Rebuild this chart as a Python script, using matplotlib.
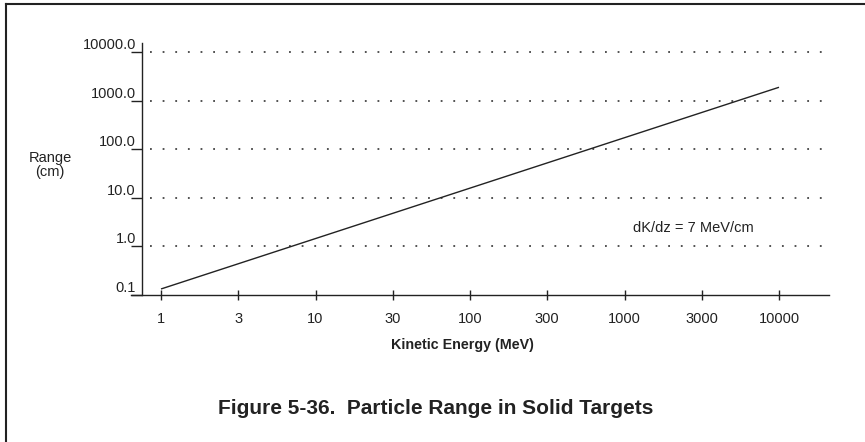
import matplotlib
matplotlib.use("Agg")
import matplotlib.pyplot as plt
from matplotlib.lines import Line2D

plt.rcParams["font.family"] = ["Liberation Sans", "DejaVu Sans"]

# line end points
energy_mev = [1, 10000]
range_cm = [0.133, 1880]

y_ticks = [0.1, 1.0, 10.0, 100.0, 1000.0, 10000.0]
y_labels = ["0.1", "1.0", "10.0", "100.0", "1000.0", "10000.0"]
grid_levels = [1.0, 10.0, 100.0, 1000.0, 10000.0]
# ticks are evenly spaced: 3 sits at half a decade
x_ticks = [10 ** (k / 2) for k in range(9)]
x_labels = ["1", "3", "10", "30", "100", "300", "1000", "3000", "10000"]

INK = "#222222"
W, H = 865, 442

fig = plt.figure(figsize=(W / 100, H / 100), dpi=100)
ax = fig.add_axes([142 / W, 1 - 295 / H, (829 - 142) / W, (295 - 43) / H])
ax.set_xscale("log")
ax.set_yscale("log")
ax.set_xlim(10 ** (-19 / 154.5), 10 ** (668 / 154.5))
ax.set_ylim(0.1, 0.1 * 10 ** (252 / 48.6))

for s in ("top", "right"):
    ax.spines[s].set_visible(False)
for s in ("left", "bottom"):
    ax.spines[s].set_color(INK)
    ax.spines[s].set_linewidth(1.0)
ax.spines["bottom"].set_bounds(10 ** (-30 / 154.5), 10 ** (668 / 154.5))

for lvl in grid_levels:
    ax.axhline(lvl, xmin=0.012, xmax=0.99, color="#444444", lw=1.3,
               linestyle=(0, (1.0, 6.0)))

ax.plot(energy_mev, range_cm, color=INK, lw=1.0, solid_capstyle="butt")

ax.minorticks_off()
ax.set_yticks(y_ticks)
ax.set_yticklabels(y_labels, va="bottom")
ax.tick_params(axis="y", direction="out", length=8, width=1.0, color=INK,
               pad=-3.6, labelsize=10.5, labelcolor=INK)
ax.set_xticks(x_ticks)
ax.set_xticklabels(x_labels)
ax.tick_params(axis="x", direction="inout", length=6.5, width=1.0, color=INK,
               pad=9, labelsize=10.5, labelcolor=INK)

fig.text(50 / W, 1 - 165 / H, "Range\n(cm)", ha="center", va="center",
         fontsize=10.5, color=INK, linespacing=1.0)
fig.text(462 / W, 1 - 345 / H, "Kinetic Energy (MeV)", ha="center", va="center",
         fontsize=10.3, fontweight="bold", color=INK)
fig.text(693 / W, 1 - 228 / H, "dK/dz = 7 MeV/cm", ha="center", va="center",
         fontsize=10.5, color=INK)
fig.text(436 / W, 1 - 408 / H, "Figure 5-36.  Particle Range in Solid Targets",
         ha="center", va="center", fontsize=15, fontweight="bold", color=INK)

# page frame: only top and left edges show
fig.add_artist(Line2D([6 / W, 1], [1 - 4 / H, 1 - 4 / H], color=INK, lw=1.5))
fig.add_artist(Line2D([6 / W, 6 / W], [0, 1 - 4 / H], color=INK, lw=1.5))

fig.savefig("out.png", dpi=100)
